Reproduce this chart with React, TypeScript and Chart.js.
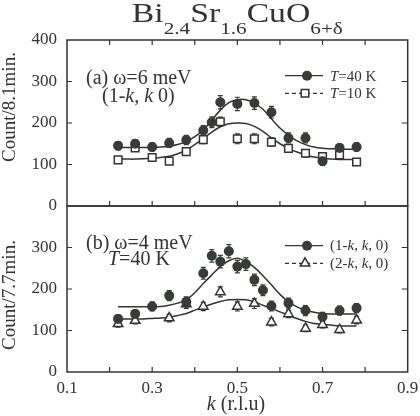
import React, { useEffect, useRef } from 'react';
import { Chart, registerables } from 'chart.js';

Chart.register(...registerables);

// ---------------- data ----------------
const kTop40 = [0.22, 0.26, 0.30, 0.34, 0.38, 0.42, 0.44, 0.46, 0.50, 0.54, 0.58, 0.62, 0.66, 0.70, 0.74, 0.78];
const cTop40 = [145, 150, 142, 152, 159, 182, 202, 250, 246, 248, 226, 164, 164, 108, 140, 142];
const eTop40 = [10, 10, 10, 11, 11, 12, 13, 16, 16, 15, 14, 12, 12, 10, 10, 10];

const kTop10 = [0.22, 0.26, 0.30, 0.34, 0.38, 0.42, 0.46, 0.50, 0.54, 0.58, 0.62, 0.66, 0.70, 0.74, 0.78];
const cTop10 = [111, 140, 117, 108, 131, 160, 203, 162, 162, 154, 139, 127, 119, 123, 106];
const eTop10 = [8, 8, 8, 8, 9, 10, 11, 12, 12, 10, 9, 9, 8, 8, 8];

const kBot1 = [0.22, 0.26, 0.30, 0.34, 0.38, 0.42, 0.44, 0.46, 0.48, 0.50, 0.52, 0.54, 0.56, 0.58, 0.62, 0.66, 0.70, 0.74, 0.78];
const cBot1 = [128, 140, 158, 184, 169, 238, 280, 266, 291, 254, 260, 222, 197, 159, 166, 148, 133, 148, 154];
const eBot1 = [10, 10, 11, 12, 12, 14, 15, 15, 16, 15, 15, 14, 13, 12, 12, 12, 11, 11, 11];

const kBot2 = [0.22, 0.26, 0.34, 0.38, 0.42, 0.46, 0.50, 0.54, 0.58, 0.62, 0.66, 0.70, 0.74, 0.78];
const cBot2 = [116, 124, 130, 164, 158, 193, 158, 165, 120, 140, 105, 114, 102, 125];
const eBot2 = [8, 8, 9, 11, 10, 12, 11, 12, 9, 9, 8, 8, 8, 9];

const fitK = [0.22, 0.24, 0.26, 0.28, 0.30, 0.32, 0.34, 0.36, 0.38, 0.40, 0.42, 0.44, 0.46, 0.48, 0.50, 0.52, 0.54, 0.56, 0.58, 0.60, 0.62, 0.64, 0.66, 0.68, 0.70, 0.72, 0.74, 0.76, 0.78];
const fitTop40 = [141, 141, 141, 141, 141, 142, 144, 148, 155, 167, 183, 207, 231, 249, 256, 256, 248, 233, 210, 188, 171, 157, 148, 142, 139, 138, 137, 137, 137];
const fitTop10 = [113, 113, 113, 114, 115, 117, 120, 126, 135, 148, 163, 178, 191, 198, 200, 199, 192, 180, 164, 150, 139, 130, 123, 118, 115, 113, 112, 112, 112];
const fitBot1 = [157, 157, 157, 157, 157, 158, 161, 166, 174, 191, 213, 234, 254, 268, 274, 266, 252, 232, 210, 187, 169, 157, 149, 144, 141, 140, 140, 140, 140];
const fitBot2 = [128, 128, 128, 128, 129, 130, 132, 136, 141, 149, 157, 164, 170, 174, 175, 174, 169, 161, 153, 145, 137, 129, 122, 117, 115, 113, 111, 111, 111];

const xTickVals = [0.1, 0.2, 0.3, 0.4, 0.5, 0.6, 0.7, 0.8, 0.9];
const yTickVals = [0, 100, 200, 300, 400];

// ---------------- styles ----------------
const SERIF = '"Liberation Serif", "Times New Roman", serif';
const INK = '#333333';
const DOT = '#363c36';

type Seg = { t: string; i?: boolean };

function rich(ctx: CanvasRenderingContext2D, segs: Seg[], x: number, y: number, size: number, align: 'left' | 'center' = 'left') {
  ctx.save();
  ctx.fillStyle = INK;
  ctx.textBaseline = 'alphabetic';
  ctx.textAlign = 'left';
  const fonts = segs.map((s) => `${s.i ? 'italic ' : ''}${size}px ${SERIF}`);
  let total = 0;
  const ws = segs.map((s, j) => {
    ctx.font = fonts[j];
    const w = ctx.measureText(s.t).width;
    total += w;
    return w;
  });
  let cx = align === 'center' ? x - total / 2 : x;
  segs.forEach((s, j) => {
    ctx.font = fonts[j];
    ctx.fillText(s.t, cx, y);
    cx += ws[j];
  });
  ctx.restore();
}

function marker(ctx: CanvasRenderingContext2D, kind: string, x: number, y: number) {
  ctx.save();
  ctx.lineWidth = 1.5;
  ctx.beginPath();
  if (kind === 'circle') {
    ctx.fillStyle = DOT;
    ctx.arc(x, y, 5, 0, Math.PI * 2);
    ctx.fill();
  } else if (kind === 'rect') {
    ctx.fillStyle = '#fff';
    ctx.strokeStyle = INK;
    ctx.rect(x - 3.8, y - 3.8, 7.6, 7.6);
    ctx.fill();
    ctx.stroke();
  } else {
    const r = 5.5;
    ctx.fillStyle = '#fff';
    ctx.strokeStyle = INK;
    ctx.moveTo(x, y - r);
    ctx.lineTo(x + r * 0.866, y + r * 0.5);
    ctx.lineTo(x - r * 0.866, y + r * 0.5);
    ctx.closePath();
    ctx.fill();
    ctx.stroke();
  }
  ctx.restore();
}

type LegendRow = { kind: string; dashed: boolean; y: number; base: number; segs: Seg[] };
type TextItem = { segs: Seg[]; x: number; y: number; size: number; align?: 'left' | 'center' };

type PanelCfg = {
  topTicks: boolean;
  bottomTicks: boolean;
  texts: TextItem[];
  legend: LegendRow[];
  yTitle: { text: string; x: number; y: number };
  title?: boolean;
};

function panelPlugin(cfg: PanelCfg) {
  return {
    id: 'panel',
    beforeDatasetsDraw(chart: any) {
      const ctx: CanvasRenderingContext2D = chart.ctx;
      const xs = chart.scales.x;
      const ys = chart.scales.y;
      chart.data.datasets.forEach((ds: any) => {
        if (!ds.errors) return;
        ctx.save();
        ctx.strokeStyle = ds.errColor;
        ctx.lineWidth = 1.2;
        ds.data.forEach((p: any, i: number) => {
          const e = ds.errors[i];
          const px = xs.getPixelForValue(p.x);
          const y1 = ys.getPixelForValue(p.y - e);
          const y2 = ys.getPixelForValue(p.y + e);
          ctx.beginPath();
          ctx.moveTo(px, y1);
          ctx.lineTo(px, y2);
          ctx.moveTo(px - 2.5, y1);
          ctx.lineTo(px + 2.5, y1);
          ctx.moveTo(px - 2.5, y2);
          ctx.lineTo(px + 2.5, y2);
          ctx.stroke();
        });
        ctx.restore();
      });
    },
    afterDraw(chart: any) {
      const ctx: CanvasRenderingContext2D = chart.ctx;
      const { left, right, top, bottom } = chart.chartArea;
      const xs = chart.scales.x;
      const ys = chart.scales.y;
      ctx.save();
      ctx.strokeStyle = INK;
      ctx.lineWidth = 1.5;
      ctx.strokeRect(left, top, right - left, bottom - top);
      ctx.lineWidth = 1.2;
      ctx.beginPath();
      xTickVals.forEach((v) => {
        const px = xs.getPixelForValue(v);
        if (px <= left + 1 || px >= right - 1) return;
        if (cfg.topTicks) {
          ctx.moveTo(px, top);
          ctx.lineTo(px, top + 5);
        }
        if (cfg.bottomTicks) {
          ctx.moveTo(px, bottom);
          ctx.lineTo(px, bottom - 5);
        }
      });
      yTickVals.forEach((v) => {
        const py = ys.getPixelForValue(v);
        if (py <= top + 1 || py >= bottom - 1) return;
        ctx.moveTo(left, py);
        ctx.lineTo(left + 5, py);
        ctx.moveTo(right, py);
        ctx.lineTo(right - 6, py);
      });
      ctx.stroke();
      ctx.restore();

      // legend
      cfg.legend.forEach((row) => {
        ctx.save();
        ctx.strokeStyle = INK;
        ctx.lineWidth = 1.3;
        if (row.dashed) ctx.setLineDash([4, 3]);
        ctx.beginPath();
        ctx.moveTo(285, row.y);
        ctx.lineTo(323, row.y);
        ctx.stroke();
        ctx.restore();
        marker(ctx, row.kind, row.kind === 'circle' ? 307 : 305, row.y);
        rich(ctx, row.segs, 330, row.base, 15);
      });

      cfg.texts.forEach((t) => rich(ctx, t.segs, t.x, t.y, t.size, t.align || 'left'));

      // y title
      ctx.save();
      ctx.translate(cfg.yTitle.x, cfg.yTitle.y);
      ctx.rotate(-Math.PI / 2);
      ctx.fillStyle = INK;
      ctx.font = `19px ${SERIF}`;
      ctx.textAlign = 'center';
      ctx.textBaseline = 'alphabetic';
      ctx.fillText(cfg.yTitle.text, 0, 0);
      ctx.restore();

      if (cfg.title) {
        const parts = [
          { t: 'Bi', s: 27, dy: 0 },
          { t: '2.4', s: 17, dy: 12 },
          { t: 'Sr', s: 27, dy: 0 },
          { t: '1.6', s: 17, dy: 12 },
          { t: 'CuO', s: 27, dy: 0 },
          { t: '6+δ', s: 17, dy: 12 },
        ];
        ctx.save();
        ctx.fillStyle = INK;
        ctx.textBaseline = 'alphabetic';
        let total = 0;
        const ws = parts.map((p) => {
          ctx.font = `${p.s}px ${SERIF}`;
          const w = ctx.measureText(p.t).width;
          total += w;
          return w;
        });
        const targetW = 211;
        const sx = targetW / total;
        const cx = (left + right) / 2;
        ctx.translate(cx - targetW / 2, 21.5);
        ctx.scale(sx, 1);
        let x = 0;
        parts.forEach((p, j) => {
          ctx.font = `${p.s}px ${SERIF}`;
          ctx.fillText(p.t, x, p.dy);
          x += ws[j];
        });
        ctx.restore();
      }
    },
  };
}

const pts = (xs: number[], ys: number[]) => xs.map((x, i) => ({ x, y: ys[i] }));

function scatterDs(xs: number[], ys: number[], errs: number[], kind: string) {
  const filled = kind === 'circle';
  return {
    data: pts(xs, ys),
    showLine: false,
    pointStyle: kind,
    pointRadius: kind === 'rect' ? 5.4 : kind === 'triangle' ? 5.5 : 5,
    pointBackgroundColor: filled ? DOT : '#ffffff',
    pointBorderColor: filled ? DOT : INK,
    pointBorderWidth: filled ? 0 : 1.5,
    pointHoverRadius: 5,
    errors: errs,
    errColor: filled ? DOT : INK,
  };
}

function fitDs(ys: number[]) {
  return {
    data: pts(fitK, ys),
    pointRadius: 0,
    borderColor: INK,
    borderWidth: 1.5,
    tension: 0.3,
    fill: false,
  };
}

const tickFont = { family: SERIF, size: 17 };

function yScale(hide400: boolean) {
  return {
    min: 0,
    max: 400,
    ticks: {
      stepSize: 100,
      font: tickFont,
      color: INK,
      padding: 10,
      callback: (v: any) => (hide400 && v === 400 ? '' : String(v)),
    },
    grid: { display: false, drawTicks: false },
    border: { display: false },
    afterFit: (s: any) => {
      s.width = 67;
      s.paddingTop = 0;
      s.paddingBottom = 0;
    },
  };
}

export default function App() {
  const topRef = useRef<HTMLCanvasElement>(null);
  const botRef = useRef<HTMLCanvasElement>(null);

  useEffect(() => {
    const top = new Chart(topRef.current as HTMLCanvasElement, {
      type: 'line',
      data: {
        datasets: [
          scatterDs(kTop40, cTop40, eTop40, 'circle'),
          scatterDs(kTop10, cTop10, eTop10, 'rect'),
          fitDs(fitTop40),
          fitDs(fitTop10),
        ] as any,
      },
      options: {
        animation: false,
        responsive: false,
        events: [],
        layout: { padding: { left: 0, right: 12.3, top: 40, bottom: 10 } },
        plugins: { legend: { display: false }, tooltip: { enabled: false } },
        scales: {
          x: { type: 'linear', min: 0.1, max: 0.9, display: false },
          y: yScale(false) as any,
        },
      },
      plugins: [
        panelPlugin({
          topTicks: true,
          bottomTicks: true,
          title: true,
          yTitle: { text: 'Count/8.1min.', x: 15, y: 107 },
          texts: [
            { segs: [{ t: '(a) ω=6 meV' }], x: 86, y: 84, size: 20 },
            { segs: [{ t: '(1-' }, { t: 'k', i: true }, { t: ', ' }, { t: 'k', i: true }, { t: ' 0)' }], x: 102, y: 101.5, size: 20 },
          ],
          legend: [
            { kind: 'circle', dashed: false, y: 75.7, base: 80.5, segs: [{ t: 'T', i: true }, { t: '=40 K' }] },
            { kind: 'rect', dashed: true, y: 93.3, base: 98, segs: [{ t: 'T', i: true }, { t: '=10 K' }] },
          ],
        }) as any,
      ],
    });

    const bot = new Chart(botRef.current as HTMLCanvasElement, {
      type: 'line',
      data: {
        datasets: [
          scatterDs(kBot1, cBot1, eBot1, 'circle'),
          scatterDs(kBot2, cBot2, eBot2, 'triangle'),
          fitDs(fitBot1),
          fitDs(fitBot2),
        ] as any,
      },
      options: {
        animation: false,
        responsive: false,
        events: [],
        layout: { padding: { left: 0, right: 12.3, top: 10, bottom: 0 } },
        plugins: { legend: { display: false }, tooltip: { enabled: false } },
        scales: {
          x: {
            type: 'linear',
            min: 0.1,
            max: 0.9,
            ticks: {
              stepSize: 0.1,
              font: tickFont,
              color: INK,
              padding: 6,
              maxRotation: 0,
              autoSkip: false,
              callback: (v: any) => (Math.round(Number(v) * 10) % 2 === 1 ? Number(v).toFixed(1) : ''),
            },
            grid: { display: false, drawTicks: false },
            border: { display: false },
            afterFit: (s: any) => {
              s.height = 44;
              s.paddingLeft = 0;
              s.paddingRight = 0;
            },
          } as any,
          y: yScale(true) as any,
        },
      },
      plugins: [
        panelPlugin({
          topTicks: false,
          bottomTicks: true,
          yTitle: { text: 'Count/7.7min.', x: 15, y: 99 },
          texts: [
            { segs: [{ t: '(b) ω=4 meV' }], x: 86, y: 53, size: 20 },
            { segs: [{ t: 'T', i: true }, { t: '=40 K' }], x: 108, y: 69, size: 20 },
            { segs: [{ t: 'k', i: true }, { t: ' (r.l.u)' }], x: 236, y: 214, size: 20, align: 'center' },
          ],
          legend: [
            { kind: 'circle', dashed: false, y: 49.7, base: 54, segs: [{ t: '(1-' }, { t: 'k', i: true }, { t: ', ' }, { t: 'k', i: true }, { t: ', 0)' }] },
            { kind: 'triangle', dashed: true, y: 67.3, base: 71.5, segs: [{ t: '(2-' }, { t: 'k', i: true }, { t: ', ' }, { t: 'k', i: true }, { t: ', 0)' }] },
          ],
        }) as any,
      ],
    });

    return () => {
      top.destroy();
      bot.destroy();
    };
  }, []);

  return (
    <div style={{ position: 'absolute', left: 0, top: 0, width: 420, height: 416, background: '#ffffff', overflow: 'hidden' }}>
      <canvas ref={botRef} width={420} height={220} style={{ position: 'absolute', left: 0, top: 196, width: 420, height: 220 }} />
      <canvas ref={topRef} width={420} height={216} style={{ position: 'absolute', left: 0, top: 0, width: 420, height: 216 }} />
    </div>
  );
}
